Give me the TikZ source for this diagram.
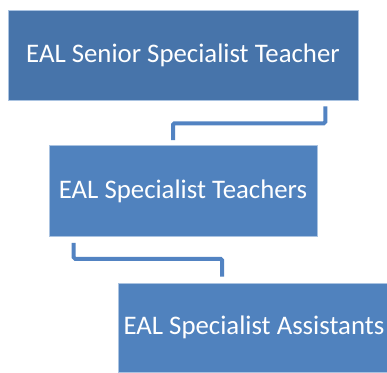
\documentclass[tikz,border=0pt]{standalone}
\usepackage{fontspec}
\setmainfont{Carlito}
\usepackage{xcolor}
\usepackage{tikz}

\definecolor{boxtop}{RGB}{71,116,170}
\definecolor{boxblue}{RGB}{80,130,190}
\definecolor{boxedge}{RGB}{170,195,225}
\definecolor{linkblue}{RGB}{82,131,194}

\tikzset{
  rolebox/.style={draw=boxedge, line width=0.6pt, fill=boxblue, text=white,
    rectangle, inner sep=0pt, font=\fontsize{26.8}{32}\selectfont},
  link/.style={draw=linkblue, line width=4pt, rounded corners=1.5pt}
}

\begin{document}
\begin{tikzpicture}[node distance=136pt]
      \useasboundingbox (0,0) rectangle (387pt,372pt);
      \node (senior) [rolebox, fill=boxtop, minimum width=350pt, minimum height=90pt] at (183pt,317pt) {EAL Senior Specialist Teacher};
      \node (teachers) [rolebox, minimum width=268pt, minimum height=91pt, below of=senior] {EAL Specialist Teachers};
      \node (assistants) [rolebox, minimum width=272pt, minimum height=89pt, below of=teachers, xshift=71pt, yshift=-0.5pt] {EAL Specialist Assistants};

      \draw[link] ([xshift=-33pt,yshift=-6pt]senior.south east) -- ++(0,-17pt) -| ([xshift=-10pt,yshift=5pt]teachers.north);
      \draw[link] ([xshift=25pt,yshift=-6pt]teachers.south west) -- ++(0,-16pt) -| ([xshift=-32pt,yshift=6pt]assistants.north);
    \end{tikzpicture}
\end{document}
